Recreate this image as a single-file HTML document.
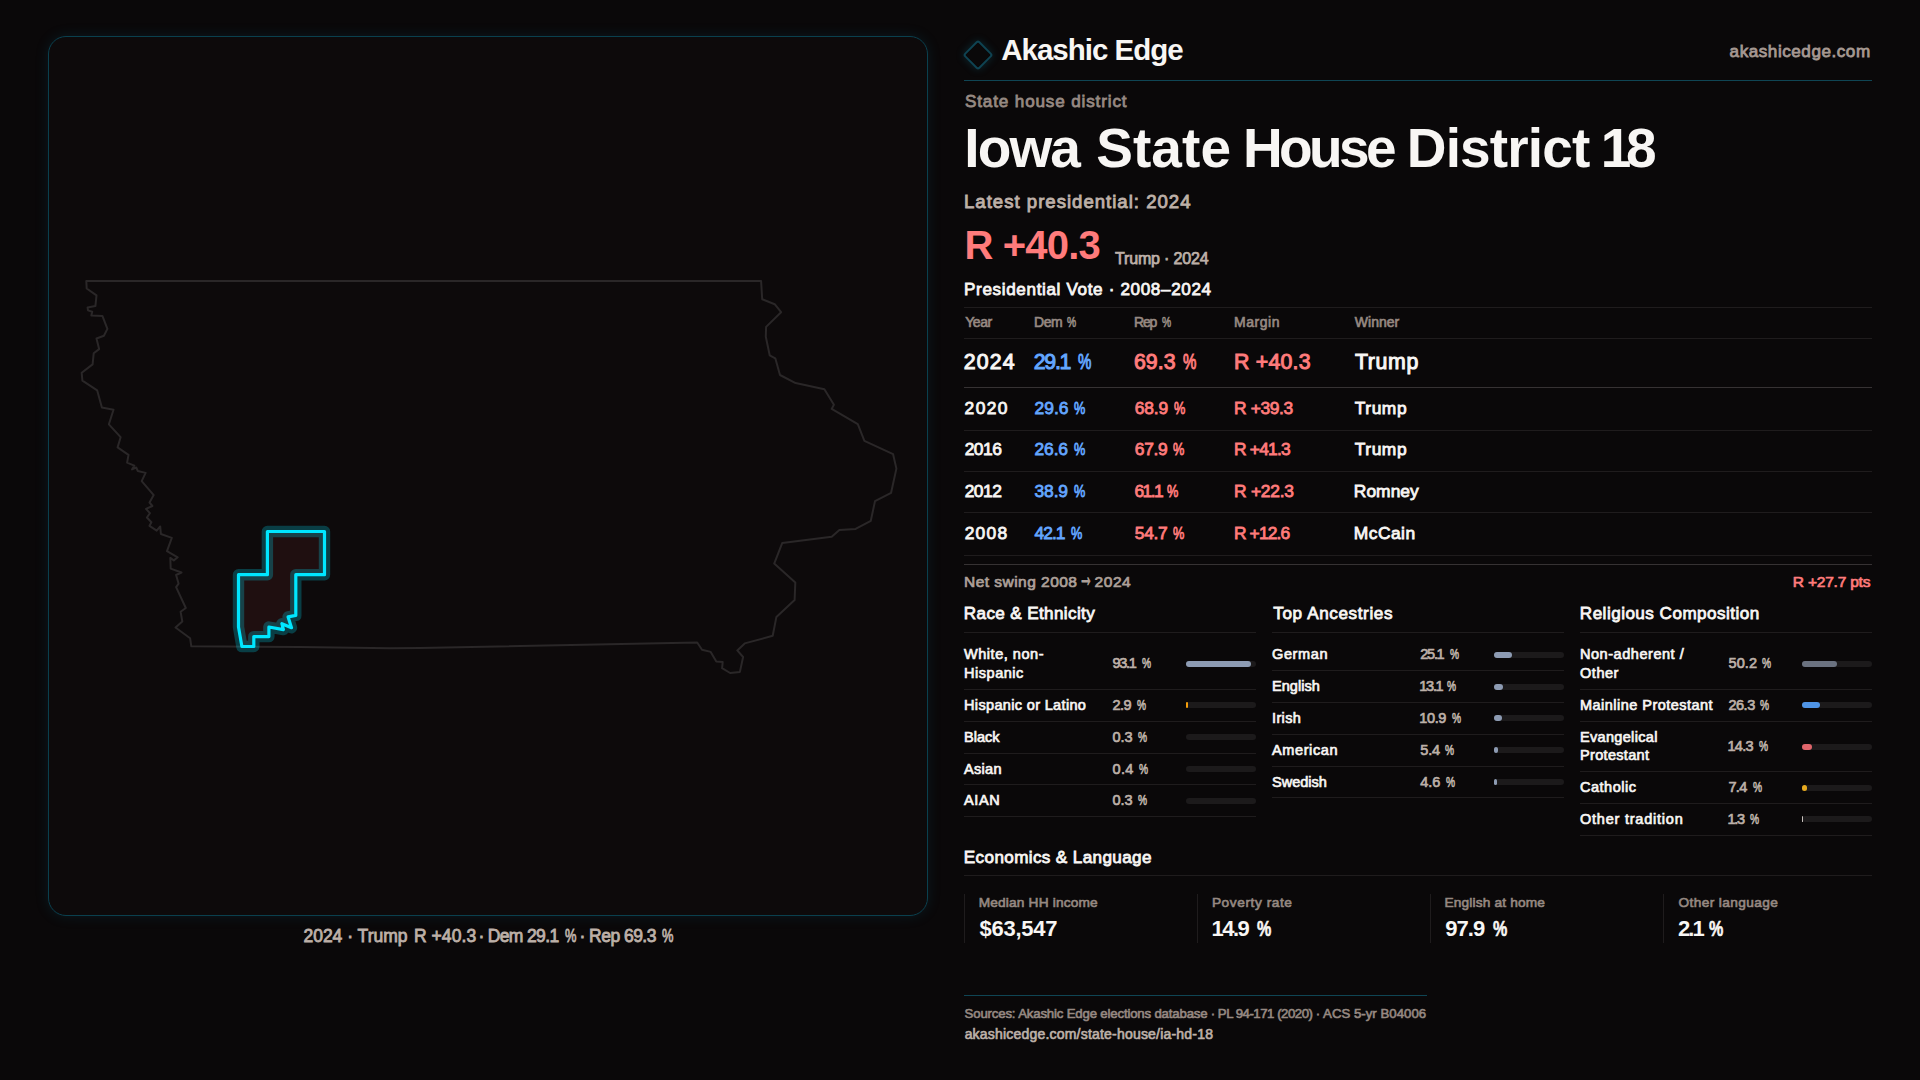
<!DOCTYPE html>
<html lang="en">
<head>
<meta charset="utf-8">
<title>Iowa State House District 18 — Akashic Edge</title>
<style>
*{box-sizing:border-box;margin:0;padding:0}
html,body{width:1920px;height:1080px;overflow:hidden;background:#0a0809}
body{position:relative;font-family:"Liberation Sans",Arial,sans-serif;color:#f8f6f4;-webkit-font-smoothing:antialiased}
.abs{position:absolute;white-space:nowrap;line-height:1}
/* ---------- map panel ---------- */
#map{position:absolute;left:48px;top:36px;width:880px;height:880px;border:1px solid #0a404e;border-radius:18px;background:#0d0a0b;box-shadow:0 0 14px rgba(18,120,150,.16)}
#map svg{position:absolute;left:-1px;top:-1px;width:880px;height:880px}
#cap{position:absolute;left:0;top:0;width:0;height:0;font-size:18px;color:#bdb0a8}
#cap>span{position:absolute;line-height:1;white-space:nowrap}
/* ---------- right column ---------- */
#col{position:absolute;left:964px;top:0;width:908px;height:1080px}
.hr{position:absolute;left:0;right:0;height:1px;background:#1f1c1d}
.muted{color:#968982}
.soft{color:#bdb0a8}
.red{color:#ff7b7b}
.blue{color:#63a6ff}

/* header */
#logo{position:absolute;left:2.8px;top:43.8px;width:22px;height:22px;border:2px solid #0f4352;border-radius:3px;transform:rotate(45deg);box-shadow:0 0 9px rgba(20,130,160,.26)}
#brand{left:37px;top:33px;font-size:30px;font-weight:700}
#site{left:765px;top:41px;font-size:18px;font-weight:700;color:#a69992}
#hline{top:80px;background:#0f4554}
#kind{left:0;top:91px;font-size:18px;font-weight:700}
#title{position:absolute;left:0;top:0;width:908px;height:0;font-size:55px;font-weight:700}
#title span{position:absolute;line-height:1;white-space:nowrap}
#latest{left:0;top:191px;font-size:19px;font-weight:700}
#margin{left:0;top:223px;font-size:40px;font-weight:700}
#who{left:150px;top:249px;font-size:16px;font-weight:700}
#pv{left:0;top:279px;font-size:18px;font-weight:700}

/* vote table */
.vt{position:absolute;left:0;width:908px;height:0}
.vt span{position:absolute;top:0;white-space:nowrap;line-height:1}
.vt .c1{left:0}.vt .c2{left:70px}.vt .c3{left:170px}.vt .c4{left:270px}.vt .c5{left:390px}
#vh{top:315px;font-size:14px;color:#968982}
#r24{top:350px;font-size:22px}
#r20{top:399px;font-size:18px}
#r16{top:440px;font-size:18px}
#r12{top:482px;font-size:18px}
#r08{top:524px;font-size:18px}
#swing{position:absolute;left:0;top:0;width:0;height:0;font-size:15.5px;color:#ada099}
#swing>span{position:absolute;line-height:1;white-space:nowrap}
#swing .arr{left:115px;top:561.1px;font-size:30px;transform:scaleX(.46);transform-origin:0 50%;-webkit-text-stroke:1.1px}
#swingv{left:829px;top:574px;font-size:15.5px}
/* demographic lists */
.sec{position:absolute;top:0;width:292px}
.sec h3{position:absolute;left:0;top:604px;font-size:18px;line-height:1;white-space:nowrap;font-weight:400}
.sec .ul{position:absolute;left:0;top:632px;width:292px;height:1px;background:#1f1c1d}
.list{position:absolute;left:0;top:639.5px;width:292px;list-style:none;font-size:15px}
.list li{position:relative;height:31.75px;border-bottom:1px solid #1f1c1d}
.list li.two{height:50.5px}
.list .lab{position:absolute;left:0;top:7px;font-weight:400;line-height:1;white-space:nowrap}
.list li.two .lab{top:7.7px;line-height:18.3px}
.list .val{position:absolute;left:148px;top:7px;font-style:normal;line-height:1;white-space:nowrap;color:#bdb0a8}
.list li.two .val{top:16.2px}
.list .bar{position:absolute;left:222px;top:12.4px;width:70px;height:6px;border-radius:3px;background:#1c1a1b}
.list li.two .bar{top:21.8px}
.list .fill{display:block;height:6px;border-radius:3px;background:#8d9bb3}
/* stats */
#econ{left:0;top:848px;font-size:18px;font-weight:400}
.stat{position:absolute;top:894px;width:209px;height:49px;border-left:1px solid #1f1c1d}
.stat em{position:absolute;left:14px;top:1.3px;font-style:normal;font-size:14px;line-height:1;white-space:nowrap;color:#968982}
.stat strong{position:absolute;left:14px;top:23.8px;font-size:22px;line-height:1;white-space:nowrap}
/* footer */
#fline{position:absolute;left:0;top:995px;width:463px;height:1px;background:#0f4554}
#src{position:absolute;left:0;top:0;width:0;height:0;font-size:13px}
#src>span{position:absolute;line-height:1;white-space:nowrap}
#url{left:0;top:1026.8px;font-size:14px}
/*FIT-START*/
#brand{left:37.20px;top:35.23px;font-size:29.5px;letter-spacing:-1.005px;font-weight:700}
#site{left:765.60px;top:42.52px;font-size:17.1px;letter-spacing:0.536px;font-weight:400;-webkit-text-stroke:0.80px}
#kind{left:1.00px;top:92.82px;font-size:17.1px;letter-spacing:0.851px;font-weight:400;-webkit-text-stroke:0.80px}
#title span:nth-child(1){left:0.30px;top:120.84px;font-size:55px;letter-spacing:-1.886px;font-weight:700}
#title span:nth-child(2){left:132.20px;top:120.84px;font-size:55px;letter-spacing:0.074px;font-weight:700}
#title span:nth-child(3){left:278.90px;top:120.84px;font-size:55px;letter-spacing:-3.600px;font-weight:700}
#title span:nth-child(4){left:442.80px;top:120.84px;font-size:55px;letter-spacing:-0.868px;font-weight:700}
#title span:nth-child(5){left:636.80px;top:120.84px;font-size:55px;letter-spacing:-5.400px;font-weight:700}
#latest{left:0.04px;top:193.06px;font-size:18.6px;letter-spacing:0.994px;font-weight:400;-webkit-text-stroke:0.87px}
#margin{left:0.50px;top:224.54px;font-size:40px;letter-spacing:-0.844px;font-weight:700}
#who{left:150.98px;top:251.21px;font-size:16px;letter-spacing:-0.164px;font-weight:400;-webkit-text-stroke:0.75px}
#pv{left:0.00px;top:281.22px;font-size:17.1px;letter-spacing:0.645px;font-weight:400;-webkit-text-stroke:0.80px}
#cap>span:nth-child(1){left:303.41px;top:927.69px;font-size:17.5px;letter-spacing:0.002px;font-weight:400;-webkit-text-stroke:0.82px}
#cap>span:nth-child(2){left:413.91px;top:927.69px;font-size:17.5px;letter-spacing:0.072px;font-weight:400;-webkit-text-stroke:0.82px}
#cap>span:nth-child(3){left:478.41px;top:927.69px;font-size:17.5px;letter-spacing:-0.649px;font-weight:400;-webkit-text-stroke:0.82px}
#cap>span:nth-child(3) .pc{left:86.36px;transform:scaleX(0.735)}
#cap>span:nth-child(4){left:579.41px;top:927.69px;font-size:17.5px;letter-spacing:-0.522px;font-weight:400;-webkit-text-stroke:0.82px}
#cap>span:nth-child(4) .pc{left:82.66px;transform:scaleX(0.735)}
#vh .c1{left:1.33px;top:0.25px;font-size:14px;letter-spacing:-0.511px;font-weight:400;-webkit-text-stroke:0.66px}
#vh .c2{left:70.08px;top:0.25px;font-size:14px;letter-spacing:-0.449px;font-weight:400;-webkit-text-stroke:0.66px}
#vh .c2 .pc{left:33.10px;transform:scaleX(0.735)}
#vh .c3{left:170.03px;top:0.25px;font-size:14px;letter-spacing:-1.244px;font-weight:400;-webkit-text-stroke:0.66px}
#vh .c3 .pc{left:27.85px;transform:scaleX(0.735)}
#vh .c4{left:269.93px;top:0.25px;font-size:14px;letter-spacing:0.567px;font-weight:400;-webkit-text-stroke:0.66px}
#vh .c5{left:390.83px;top:0.25px;font-size:14px;letter-spacing:0.012px;font-weight:400;-webkit-text-stroke:0.66px}
#r24 .c1{left:-0.30px;top:1.77px;font-size:21.3px;letter-spacing:1.189px;font-weight:400;-webkit-text-stroke:1.00px}
#r24 .c2{left:69.70px;top:1.77px;font-size:21.3px;letter-spacing:-1.230px;font-weight:400;-webkit-text-stroke:1.00px}
#r24 .c2 .pc{left:44.68px;transform:scaleX(0.706)}
#r24 .c3{left:169.90px;top:1.77px;font-size:21.3px;letter-spacing:0.104px;font-weight:400;-webkit-text-stroke:1.00px}
#r24 .c3 .pc{left:48.68px;transform:scaleX(0.706)}
#r24 .c4{left:270.10px;top:1.77px;font-size:21.3px;letter-spacing:0.210px;font-weight:400;-webkit-text-stroke:1.00px}
#r24 .c5{left:390.90px;top:1.77px;font-size:21.3px;letter-spacing:0.676px;font-weight:400;-webkit-text-stroke:1.00px}
#r20 .c1{left:0.61px;top:1.47px;font-size:17.4px;letter-spacing:1.356px;font-weight:400;-webkit-text-stroke:0.82px}
#r20 .c2{left:70.61px;top:1.47px;font-size:17.4px;letter-spacing:-0.030px;font-weight:400;-webkit-text-stroke:0.82px}
#r20 .c2 .pc{left:39.43px;transform:scaleX(0.731)}
#r20 .c3{left:170.81px;top:1.47px;font-size:17.4px;letter-spacing:-0.163px;font-weight:400;-webkit-text-stroke:0.82px}
#r20 .c3 .pc{left:39.03px;transform:scaleX(0.731)}
#r20 .c4{left:270.01px;top:1.47px;font-size:17.4px;letter-spacing:-0.357px;font-weight:400;-webkit-text-stroke:0.82px}
#r20 .c5{left:390.81px;top:1.47px;font-size:17.4px;letter-spacing:0.539px;font-weight:400;-webkit-text-stroke:0.82px}
#r16 .c1{left:0.71px;top:0.57px;font-size:17.4px;letter-spacing:-0.511px;font-weight:400;-webkit-text-stroke:0.82px}
#r16 .c2{left:70.61px;top:0.57px;font-size:17.4px;letter-spacing:-0.163px;font-weight:400;-webkit-text-stroke:0.82px}
#r16 .c2 .pc{left:39.03px;transform:scaleX(0.731)}
#r16 .c3{left:170.81px;top:0.57px;font-size:17.4px;letter-spacing:-0.296px;font-weight:400;-webkit-text-stroke:0.82px}
#r16 .c3 .pc{left:38.63px;transform:scaleX(0.731)}
#r16 .c4{left:270.01px;top:0.57px;font-size:17.4px;letter-spacing:-0.790px;font-weight:400;-webkit-text-stroke:0.82px}
#r16 .c5{left:390.81px;top:0.57px;font-size:17.4px;letter-spacing:0.539px;font-weight:400;-webkit-text-stroke:0.82px}
#r12 .c1{left:0.71px;top:1.47px;font-size:17.4px;letter-spacing:-0.511px;font-weight:400;-webkit-text-stroke:0.82px}
#r12 .c2{left:70.61px;top:1.47px;font-size:17.4px;letter-spacing:-0.163px;font-weight:400;-webkit-text-stroke:0.82px}
#r12 .c2 .pc{left:39.03px;transform:scaleX(0.731)}
#r12 .c3{left:170.51px;top:1.47px;font-size:17.4px;letter-spacing:-1.547px;font-weight:400;-webkit-text-stroke:0.82px}
#r12 .c3 .pc{left:32.43px;transform:scaleX(0.731)}
#r12 .c4{left:270.01px;top:1.47px;font-size:17.4px;letter-spacing:-0.232px;font-weight:400;-webkit-text-stroke:0.82px}
#r12 .c5{left:389.81px;top:1.47px;font-size:17.4px;letter-spacing:0.044px;font-weight:400;-webkit-text-stroke:0.82px}
#r08 .c1{left:0.71px;top:1.17px;font-size:17.4px;letter-spacing:1.222px;font-weight:400;-webkit-text-stroke:0.82px}
#r08 .c2{left:70.61px;top:1.17px;font-size:17.4px;letter-spacing:-1.030px;font-weight:400;-webkit-text-stroke:0.82px}
#r08 .c2 .pc{left:36.43px;transform:scaleX(0.731)}
#r08 .c3{left:170.81px;top:1.17px;font-size:17.4px;letter-spacing:-0.296px;font-weight:400;-webkit-text-stroke:0.82px}
#r08 .c3 .pc{left:38.63px;transform:scaleX(0.731)}
#r08 .c4{left:270.01px;top:1.17px;font-size:17.4px;letter-spacing:-0.890px;font-weight:400;-webkit-text-stroke:0.82px}
#r08 .c5{left:389.81px;top:1.17px;font-size:17.4px;letter-spacing:0.461px;font-weight:400;-webkit-text-stroke:0.82px}
#swing>span:nth-child(1){left:0.06px;top:574.18px;font-size:15.5px;letter-spacing:0.465px;font-weight:400;-webkit-text-stroke:0.73px}
#swing>span:nth-child(3){left:130.46px;top:574.18px;font-size:15.5px;letter-spacing:0.603px;font-weight:400;-webkit-text-stroke:0.73px}
#swingv{left:828.86px;top:574.18px;font-size:15.5px;letter-spacing:-0.218px;font-weight:400;-webkit-text-stroke:0.73px}
#race h3{left:-0.20px;top:604.92px;font-size:17.1px;letter-spacing:0.369px;font-weight:400;-webkit-text-stroke:0.80px}
#anc h3{left:1.30px;top:604.92px;font-size:17.1px;letter-spacing:0.618px;font-weight:400;-webkit-text-stroke:0.80px}
#rel h3{left:-0.20px;top:604.92px;font-size:17.1px;letter-spacing:0.472px;font-weight:400;-webkit-text-stroke:0.80px}
#econ{left:-0.20px;top:849.22px;font-size:17.1px;letter-spacing:0.371px;font-weight:400;-webkit-text-stroke:0.80px}
#race li:nth-child(1) .lab{left:0.00px;top:5.63px;line-height:18.5px;font-size:14.5px;letter-spacing:0.535px;font-weight:400;-webkit-text-stroke:0.68px}
#race li:nth-child(2) .lab{left:0.00px;top:7.83px;font-size:14.5px;letter-spacing:0.345px;font-weight:400;-webkit-text-stroke:0.68px}
#race li:nth-child(3) .lab{left:0.00px;top:8.68px;font-size:14.5px;letter-spacing:0.038px;font-weight:400;-webkit-text-stroke:0.68px}
#race li:nth-child(4) .lab{left:0.00px;top:8.93px;font-size:14.5px;letter-spacing:0.313px;font-weight:400;-webkit-text-stroke:0.68px}
#race li:nth-child(5) .lab{left:0.00px;top:7.88px;font-size:14.5px;letter-spacing:0.629px;font-weight:400;-webkit-text-stroke:0.68px}
#race li:nth-child(1) .val{left:148.54px;top:16.13px;font-size:14.5px;letter-spacing:-1.289px;font-weight:400;-webkit-text-stroke:0.68px}
#race li:nth-child(1) .val .pc{left:29.42px;transform:scaleX(0.703)}
#race li:nth-child(2) .val{left:148.54px;top:7.83px;font-size:14.5px;letter-spacing:-0.527px;font-weight:400;-webkit-text-stroke:0.68px}
#race li:nth-child(2) .val .pc{left:24.32px;transform:scaleX(0.703)}
#race li:nth-child(3) .val{left:148.54px;top:8.68px;font-size:14.5px;letter-spacing:-0.077px;font-weight:400;-webkit-text-stroke:0.68px}
#race li:nth-child(3) .val .pc{left:25.22px;transform:scaleX(0.703)}
#race li:nth-child(4) .val{left:148.54px;top:8.93px;font-size:14.5px;letter-spacing:0.373px;font-weight:400;-webkit-text-stroke:0.68px}
#race li:nth-child(4) .val .pc{left:26.12px;transform:scaleX(0.703)}
#race li:nth-child(5) .val{left:148.54px;top:7.88px;font-size:14.5px;letter-spacing:-0.077px;font-weight:400;-webkit-text-stroke:0.68px}
#race li:nth-child(5) .val .pc{left:25.22px;transform:scaleX(0.703)}
#anc li:nth-child(1) .lab{left:0.00px;top:7.23px;font-size:14.5px;letter-spacing:0.629px;font-weight:400;-webkit-text-stroke:0.68px}
#anc li:nth-child(2) .lab{left:0.00px;top:8.08px;font-size:14.5px;letter-spacing:0.028px;font-weight:400;-webkit-text-stroke:0.68px}
#anc li:nth-child(3) .lab{left:0.00px;top:7.53px;font-size:14.5px;letter-spacing:0.358px;font-weight:400;-webkit-text-stroke:0.68px}
#anc li:nth-child(4) .lab{left:0.00px;top:8.58px;font-size:14.5px;letter-spacing:0.612px;font-weight:400;-webkit-text-stroke:0.68px}
#anc li:nth-child(5) .lab{left:0.00px;top:8.83px;font-size:14.5px;letter-spacing:0.003px;font-weight:400;-webkit-text-stroke:0.68px}
#anc li:nth-child(1) .val{left:148.34px;top:7.23px;font-size:14.5px;letter-spacing:-1.289px;font-weight:400;-webkit-text-stroke:0.68px}
#anc li:nth-child(1) .val .pc{left:29.42px;transform:scaleX(0.703)}
#anc li:nth-child(2) .val{left:147.34px;top:8.08px;font-size:14.5px;letter-spacing:-1.289px;font-weight:400;-webkit-text-stroke:0.68px}
#anc li:nth-child(2) .val .pc{left:27.52px;transform:scaleX(0.703)}
#anc li:nth-child(3) .val{left:147.34px;top:7.53px;font-size:14.5px;letter-spacing:-0.406px;font-weight:400;-webkit-text-stroke:0.68px}
#anc li:nth-child(3) .val .pc{left:32.22px;transform:scaleX(0.703)}
#anc li:nth-child(4) .val{left:148.34px;top:8.58px;font-size:14.5px;letter-spacing:-0.227px;font-weight:400;-webkit-text-stroke:0.68px}
#anc li:nth-child(4) .val .pc{left:24.92px;transform:scaleX(0.703)}
#anc li:nth-child(5) .val{left:148.34px;top:8.83px;font-size:14.5px;letter-spacing:-0.077px;font-weight:400;-webkit-text-stroke:0.68px}
#anc li:nth-child(5) .val .pc{left:25.22px;transform:scaleX(0.703)}
#rel li:nth-child(1) .lab{left:0.00px;top:5.93px;line-height:18.5px;font-size:14.5px;letter-spacing:0.543px;font-weight:400;-webkit-text-stroke:0.68px}
#rel li:nth-child(2) .lab{left:0.00px;top:8.33px;font-size:14.5px;letter-spacing:0.470px;font-weight:400;-webkit-text-stroke:0.68px}
#rel li:nth-child(3) .lab{left:0.00px;top:5.98px;line-height:18.5px;font-size:14.5px;letter-spacing:0.322px;font-weight:400;-webkit-text-stroke:0.68px}
#rel li:nth-child(4) .lab{left:0.00px;top:7.98px;font-size:14.5px;letter-spacing:0.503px;font-weight:400;-webkit-text-stroke:0.68px}
#rel li:nth-child(5) .lab{left:0.00px;top:8.23px;font-size:14.5px;letter-spacing:0.775px;font-weight:400;-webkit-text-stroke:0.68px}
#rel li:nth-child(1) .val{left:148.44px;top:16.13px;font-size:14.5px;letter-spacing:0.127px;font-weight:400;-webkit-text-stroke:0.68px}
#rel li:nth-child(1) .val .pc{left:33.82px;transform:scaleX(0.703)}
#rel li:nth-child(2) .val{left:148.44px;top:8.33px;font-size:14.5px;letter-spacing:-0.473px;font-weight:400;-webkit-text-stroke:0.68px}
#rel li:nth-child(2) .val .pc{left:32.02px;transform:scaleX(0.703)}
#rel li:nth-child(3) .val{left:147.44px;top:17.58px;font-size:14.5px;letter-spacing:-0.673px;font-weight:400;-webkit-text-stroke:0.68px}
#rel li:nth-child(3) .val .pc{left:31.42px;transform:scaleX(0.703)}
#rel li:nth-child(4) .val{left:148.44px;top:7.98px;font-size:14.5px;letter-spacing:-0.627px;font-weight:400;-webkit-text-stroke:0.68px}
#rel li:nth-child(4) .val .pc{left:24.12px;transform:scaleX(0.703)}
#rel li:nth-child(5) .val{left:147.44px;top:8.23px;font-size:14.5px;letter-spacing:-1.289px;font-weight:400;-webkit-text-stroke:0.68px}
#rel li:nth-child(5) .val .pc{left:22.12px;transform:scaleX(0.703)}
#st1 em{left:13.72px;top:1.60px;font-size:13.7px;letter-spacing:0.172px;font-weight:400;-webkit-text-stroke:0.64px}
#st2 em{left:13.92px;top:1.60px;font-size:13.7px;letter-spacing:0.571px;font-weight:400;-webkit-text-stroke:0.64px}
#st3 em{left:13.52px;top:1.60px;font-size:13.7px;letter-spacing:0.165px;font-weight:400;-webkit-text-stroke:0.64px}
#st4 em{left:14.42px;top:1.60px;font-size:13.7px;letter-spacing:0.400px;font-weight:400;-webkit-text-stroke:0.64px}
#st1 strong{left:14.40px;top:23.78px;font-size:22px;letter-spacing:-0.232px;font-weight:700}
#st2 strong{left:13.60px;top:23.78px;font-size:22px;letter-spacing:-1.548px;font-weight:700}
#st2 strong .pc{left:45.44px;transform:scaleX(0.730)}
#st3 strong{left:14.20px;top:23.78px;font-size:22px;letter-spacing:-0.915px;font-weight:700}
#st3 strong .pc{left:47.34px;transform:scaleX(0.730)}
#st4 strong{left:14.10px;top:23.78px;font-size:22px;letter-spacing:-1.956px;font-weight:700}
#st4 strong .pc{left:31.04px;transform:scaleX(0.730)}
#src>span:nth-child(1){left:0.61px;top:1007.13px;font-size:13.2px;letter-spacing:-0.161px;font-weight:400;-webkit-text-stroke:0.62px}
#src>span:nth-child(2){left:246.71px;top:1007.13px;font-size:13.2px;letter-spacing:-0.472px;font-weight:400;-webkit-text-stroke:0.62px}
#src>span:nth-child(3){left:351.71px;top:1007.13px;font-size:13.2px;letter-spacing:0.027px;font-weight:400;-webkit-text-stroke:0.62px}
#url{left:0.63px;top:1026.75px;font-size:14px;letter-spacing:0.202px;font-weight:400;-webkit-text-stroke:0.66px}
/*FIT-END*/
.pc{position:absolute;top:0;letter-spacing:0;transform-origin:0 0;display:block}
.stat strong .pc{-webkit-text-stroke:.6px}
</style>
</head>
<body>

<section id="map">
<svg viewBox="48 36 880 880">
<path id="state" d="M86.3,281.1 L761.1,281.1 L762.2,299.2 L774.7,304.2 L781.1,312.2 L766.1,326.9 L765.8,336.7 L769.7,355.3 L775.3,358.3 L780,375 L795.6,383.1 L824.4,389.2 L833.9,404.7 L831.7,408.9 L857.8,424.2 L864.4,440.8 L893.1,454.2 L896.4,468.6 L891.1,492.8 L875,501.1 L870.8,520.8 L855.6,528.9 L839.4,530 L831.7,536.7 L782.2,543.1 L774.2,563.6 L795.3,582.6 L794.6,600.1 L776.4,616.9 L772.7,635.8 L744.7,643.4 L737.3,650.4 L743.1,657 L739.9,671.9 L730.1,673 L722.1,668.2 L722.7,662.1 L716.3,661.4 L710.7,651.9 L702,649.7 L697.2,642.5 L420,648 L390,648.2 L300,647.1 L191.3,646.3 L190.1,638.2 L175.5,627.5 L182.3,621.5 L180.6,611.7 L185.8,608 L176.1,587.1 L178.6,583.7 L176.1,575 L181.5,572.5 L170.7,568.6 L170.3,557.9 L173.8,560.4 L177.7,557.3 L167,551.1 L171.8,537.9 L160.9,534 L160.2,526.4 L156.7,530.7 L149.5,525.8 L151.4,522.3 L146.9,517.5 L149.9,513.2 L146,508.9 L152.4,506 L149.5,502.5 L153.7,495.1 L141.7,481.1 L145.6,472.9 L137.8,471 L136.2,467.5 L132,469.4 L134.3,465.6 L127.1,462.6 L128.5,454.9 L117.6,447.4 L120.6,437.2 L108.9,424.3 L113.5,409.8 L101.9,407.6 L97.2,390.4 L82.4,380.7 L81.7,372.8 L92.6,364.4 L93.7,353.3 L99.1,349.1 L96.5,338.5 L103.9,335.7 L107.4,328.9 L102.4,315.9 L91.3,315.6 L92.2,311.7 L88,310.4 L87.6,307.4 L95.4,306.1 L96.5,295.4 L86.7,288.5Z" fill="none" stroke="#2a2728" stroke-width="2" stroke-linejoin="round"/>
<path id="dist-fill" d="M267.4,531.5 L324.5,531.5 L324.5,574.7 L295.8,574.7 L295.8,615.4 L288.1,616.9 L291.5,627.7 L281.9,623.7 L283.4,629.6 L268.9,627 L268.9,636.6 L253.8,636.6 L253.8,646.5 L241.9,646.5 L238.5,627 L238.5,574.7 L267.4,574.7Z" fill="#1f0f10"/>
<path id="dist-halo" d="M267.4,531.5 L324.5,531.5 L324.5,574.7 L295.8,574.7 L295.8,615.4 L288.1,616.9 L291.5,627.7 L281.9,623.7 L283.4,629.6 L268.9,627 L268.9,636.6 L253.8,636.6 L253.8,646.5 L241.9,646.5 L238.5,627 L238.5,574.7 L267.4,574.7Z" fill="none" stroke="#00e5ff" stroke-opacity=".24" stroke-width="11.4" stroke-linejoin="round"/>
<path id="dist-line" d="M267.4,531.5 L324.5,531.5 L324.5,574.7 L295.8,574.7 L295.8,615.4 L288.1,616.9 L291.5,627.7 L281.9,623.7 L283.4,629.6 L268.9,627 L268.9,636.6 L253.8,636.6 L253.8,646.5 L241.9,646.5 L238.5,627 L238.5,574.7 L267.4,574.7Z" fill="none" stroke="#00e6ff" stroke-width="3.2" stroke-linejoin="round"/>
</svg>
</section>
<div id="cap"><span>2024 · Trump</span> <span>R +40.3</span> <span>· Dem 29.1 <span class="pc">%</span></span> <span>· Rep 69.3 <span class="pc">%</span></span></div>

<main id="col">
<header>
<div id="logo"></div>
<div id="brand" class="abs">Akashic Edge</div>
<div id="site" class="abs">akashicedge.com</div>
<div id="hline" class="hr"></div>
</header>
<div id="kind" class="abs muted">State house district</div>
<h1 id="title"><span>Iowa</span> <span>State</span> <span>House</span> <span>District</span> <span>18</span></h1>
<div id="latest" class="abs soft">Latest presidential: 2024</div>
<div id="margin" class="abs red">R +40.3</div>
<div id="who" class="abs soft">Trump · 2024</div>
<h2 id="pv" class="abs">Presidential Vote · 2008–2024</h2>
<div class="hr" style="top:307px"></div>
<div id="vh" class="vt"><span class="c1">Year</span><span class="c2">Dem <span class="pc">%</span></span><span class="c3">Rep <span class="pc">%</span></span><span class="c4">Margin</span><span class="c5">Winner</span></div>
<div class="hr" style="top:338px"></div>
<div id="r24" class="vt"><span class="c1">2024</span><span class="c2 blue">29.1 <span class="pc">%</span></span><span class="c3 red">69.3 <span class="pc">%</span></span><span class="c4 red">R +40.3</span><span class="c5">Trump</span></div>
<div class="hr" style="top:387px;background:#363233"></div>
<div id="r20" class="vt"><span class="c1">2020</span><span class="c2 blue">29.6 <span class="pc">%</span></span><span class="c3 red">68.9 <span class="pc">%</span></span><span class="c4 red">R +39.3</span><span class="c5">Trump</span></div>
<div class="hr" style="top:430px"></div>
<div id="r16" class="vt"><span class="c1">2016</span><span class="c2 blue">26.6 <span class="pc">%</span></span><span class="c3 red">67.9 <span class="pc">%</span></span><span class="c4 red">R +41.3</span><span class="c5">Trump</span></div>
<div class="hr" style="top:471px"></div>
<div id="r12" class="vt"><span class="c1">2012</span><span class="c2 blue">38.9 <span class="pc">%</span></span><span class="c3 red">61.1 <span class="pc">%</span></span><span class="c4 red">R +22.3</span><span class="c5">Romney</span></div>
<div class="hr" style="top:512px"></div>
<div id="r08" class="vt"><span class="c1">2008</span><span class="c2 blue">42.1 <span class="pc">%</span></span><span class="c3 red">54.7 <span class="pc">%</span></span><span class="c4 red">R +12.6</span><span class="c5">McCain</span></div>
<div class="hr" style="top:555px"></div>
<div class="hr" style="top:564px;background:#363233"></div>
<div id="swing"><span>Net swing 2008</span> <span class="arr">→</span> <span>2024</span></div>
<div id="swingv" class="abs red">R +27.7 pts</div>
<section class="sec" id="race" style="left:0px"><h3>Race &amp; Ethnicity</h3><div class="ul"></div><ul class="list">
<li class="two"><span class="lab">White, non-<br>Hispanic</span><span class="val">93.1 <span class="pc">%</span></span><span class="bar"><span class="fill" style="width:65.2px"></span></span></li>
<li><span class="lab">Hispanic or Latino</span><span class="val">2.9 <span class="pc">%</span></span><span class="bar"><span class="fill" style="width:2.0px;background:#f59e0b"></span></span></li>
<li><span class="lab">Black</span><span class="val">0.3 <span class="pc">%</span></span><span class="bar"><span class="fill" style="width:0.0px"></span></span></li>
<li><span class="lab">Asian</span><span class="val">0.4 <span class="pc">%</span></span><span class="bar"><span class="fill" style="width:0.0px"></span></span></li>
<li><span class="lab">AIAN</span><span class="val">0.3 <span class="pc">%</span></span><span class="bar"><span class="fill" style="width:0.0px"></span></span></li>
</ul></section>
<section class="sec" id="anc" style="left:308px"><h3>Top Ancestries</h3><div class="ul"></div><ul class="list">
<li><span class="lab">German</span><span class="val">25.1 <span class="pc">%</span></span><span class="bar"><span class="fill" style="width:17.6px"></span></span></li>
<li><span class="lab">English</span><span class="val">13.1 <span class="pc">%</span></span><span class="bar"><span class="fill" style="width:9.2px"></span></span></li>
<li><span class="lab">Irish</span><span class="val">10.9 <span class="pc">%</span></span><span class="bar"><span class="fill" style="width:7.6px"></span></span></li>
<li><span class="lab">American</span><span class="val">5.4 <span class="pc">%</span></span><span class="bar"><span class="fill" style="width:3.8px"></span></span></li>
<li><span class="lab">Swedish</span><span class="val">4.6 <span class="pc">%</span></span><span class="bar"><span class="fill" style="width:3.2px"></span></span></li>
</ul></section>
<section class="sec" id="rel" style="left:616px"><h3>Religious Composition</h3><div class="ul"></div><ul class="list">
<li class="two"><span class="lab">Non-adherent /<br>Other</span><span class="val">50.2 <span class="pc">%</span></span><span class="bar"><span class="fill" style="width:35.1px;background:#6b7280"></span></span></li>
<li><span class="lab">Mainline Protestant</span><span class="val">26.3 <span class="pc">%</span></span><span class="bar"><span class="fill" style="width:18.4px;background:#4f94e6"></span></span></li>
<li class="two"><span class="lab">Evangelical<br>Protestant</span><span class="val">14.3 <span class="pc">%</span></span><span class="bar"><span class="fill" style="width:10.0px;background:#e0656b"></span></span></li>
<li><span class="lab">Catholic</span><span class="val">7.4 <span class="pc">%</span></span><span class="bar"><span class="fill" style="width:5.2px;background:#e6a91f"></span></span></li>
<li><span class="lab">Other tradition</span><span class="val">1.3 <span class="pc">%</span></span><span class="bar"><span class="fill" style="width:0.9px;background:#c9c2be"></span></span></li>
</ul></section>
<h2 id="econ" class="abs">Economics &amp; Language</h2>
<div class="hr" style="top:875px"></div>
<div class="stat" id="st1" style="left:0px"><em>Median HH income</em><strong>$63,547</strong></div>
<div class="stat" id="st2" style="left:233px"><em>Poverty rate</em><strong>14.9 <span class="pc">%</span></strong></div>
<div class="stat" id="st3" style="left:466px"><em>English at home</em><strong>97.9 <span class="pc">%</span></strong></div>
<div class="stat" id="st4" style="left:699px"><em>Other language</em><strong>2.1 <span class="pc">%</span></strong></div>
<footer><div id="fline"></div><div id="src" class="muted"><span>Sources: Akashic Edge elections database</span> <span>· PL 94-171 (2020)</span> <span>· ACS 5-yr B04006</span></div>
<div id="url" class="abs soft">akashicedge.com/state-house/ia-hd-18</div></footer>
</main>

</body>
</html>
